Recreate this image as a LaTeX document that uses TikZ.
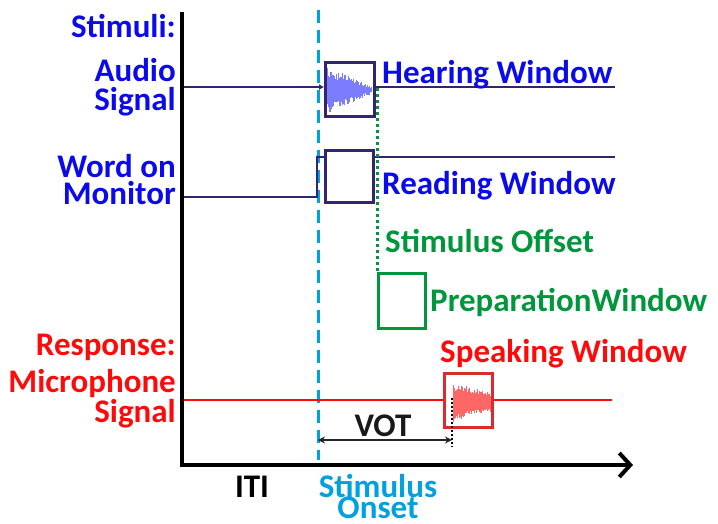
\documentclass[tikz,border=0pt]{standalone}
\usepackage{fontspec}
\setmainfont{Carlito}
\usetikzlibrary{arrows.meta}
\definecolor{lblblue}{RGB}{10,10,235}
\definecolor{navy}{RGB}{50,35,115}
\definecolor{onset}{RGB}{0,160,225}
\definecolor{offgreen}{RGB}{0,150,60}
\definecolor{resp}{RGB}{255,10,10}
\definecolor{respbox}{RGB}{215,45,45}
\begin{document}
\begin{tikzpicture}[x=1pt,y=-1pt,
  lbl/.style={font=\fontsize{33}{33}\selectfont\bfseries, inner sep=0pt},
  win/.style={draw=#1, line width=3pt, fill=white, inner sep=0pt},
  sig/.style={line width=1.2pt}]
\useasboundingbox (0,0) rectangle (718,523);

% stimulus onset marker
\coordinate (onTop) at (318,10);
\coordinate (onBot) at (318,460);
\draw[onset, line width=3pt, dash pattern=on 13pt off 7pt] (onTop) -- (onBot);

% audio signal
\node[win=navy, minimum width=49pt, minimum height=54pt] (abox) at (350,89) {};
\coordinate (aL) at (182,87);
\coordinate (aR) at (615,87);
\draw[sig, navy, -{Latex[length=5pt,width=6pt]}] (aL) -- (abox.west |- aL);
\draw[sig, navy] (abox.east |- aR) -- (aR);
\pgfmathsetseed{7}
\begin{scope}[blue!85!white, line width=0.7pt, opacity=0.6]
  \foreach \i in {0,...,44} {
    \pgfmathsetmacro{\env}{22*(1-\i/48)+2}
    \pgfmathsetmacro{\up}{\env*(0.5+0.5*rnd)}
    \pgfmathsetmacro{\dn}{\env*(0.5+0.5*rnd)}
    \draw (327+\i,90-\up) -- (327+\i,90+\dn);
  }
\end{scope}

% word on monitor
\node[win=navy, minimum width=48pt, minimum height=52pt] (rbox) at (349,176) {};
\coordinate (wL) at (182,197);
\coordinate (wStep) at (317,157);
\coordinate (wR) at (615,157);
\draw[sig, navy] (wL) -| (wStep) -- (rbox.west |- wR);
\draw[sig, navy] (rbox.east |- wR) -- (wR);

% stimulus offset and preparation window
\node[win=offgreen, minimum width=47pt, minimum height=55pt] (pbox) at (401.5,300.5) {};
\coordinate (offTop) at (377,88);
\draw[offgreen, line width=3pt, dash pattern=on 3pt off 3pt] (offTop) -- (offTop |- pbox.north west);

% microphone signal
\node[win=respbox, minimum width=48pt, minimum height=54pt] (sbox) at (468.5,400.5) {};
\coordinate (mL) at (182,400);
\coordinate (mR) at (612,400);
\draw[sig, resp] (mL) -- (sbox.west |- mL);
\draw[sig, resp] (sbox.east |- mR) -- (mR);
\pgfmathsetseed{11}
\begin{scope}[red, line width=0.7pt, opacity=0.6]
  \foreach \i in {0,...,37} {
    \pgfmathsetmacro{\env}{20-10*\i/37}
    \pgfmathsetmacro{\up}{\env*(0.55+0.45*rnd)}
    \pgfmathsetmacro{\dn}{\env*(0.55+0.45*rnd)}
    \draw (453+\i,402-\up) -- (453+\i,402+\dn);
  }
\end{scope}

% voice onset time
\coordinate (votTop) at (452,398);
\coordinate (votBot) at (452,447);
\draw[black, line width=2pt, dash pattern=on 2pt off 2pt] (votTop) -- (votBot);
\coordinate (votL) at (318,440);
\coordinate (votR) at (452,440);
\draw[black!85, line width=1.3pt, {Stealth[length=7pt,width=7pt]}-{Stealth[length=7pt,width=7pt]}] (votL) -- (votR);

% axes
\coordinate (origin) at (182,465);
\coordinate (yTop) at (182,12);
\coordinate (xEnd) at (633,465);
\draw[line width=4pt] (yTop) -- (origin);
\draw[line width=4pt, -{Straight Barb[length=11pt,width=24pt,line width=4pt]}] (180,465) -- (xEnd);

% labels
\node[lbl, lblblue, anchor=base east] (tStim) at (176,37) {Stimuli:};
\node[lbl, lblblue, anchor=base east] (tAudio) at (176,81) {Audio};
\node[lbl, lblblue, anchor=base east] (tSig1) at (176,110) {Signal};
\node[lbl, lblblue, anchor=base east] (tWord) at (176,177) {Word on};
\node[lbl, lblblue, anchor=base east] (tMon) at (176,204) {Monitor};
\node[lbl, resp, anchor=base east] (tResp) at (176,355) {Response:};
\node[lbl, resp, anchor=base east] (tMic) at (176,392) {Microphone};
\node[lbl, resp, anchor=base east] (tSig2) at (176,422) {Signal};

\node[lbl, lblblue, anchor=base west] (tHear) at (382,83) {Hearing Window};
\node[lbl, lblblue, anchor=base west] (tRead) at (382,194) {Reading Window};
\node[lbl, offgreen, anchor=base west] (tOff) at (385,252) {Stimulus Offset};
\node[lbl, offgreen, anchor=base west] (tPrep) at (430,311) {PreparationWindow};
\node[lbl, resp, anchor=base west] (tSpeak) at (440,362) {Speaking Window};
\node[lbl, black!90, anchor=base] (tVOT) at (383,436) {VOT};
\node[lbl, black, anchor=base] (tITI) at (252,497) {ITI};
\node[lbl, onset, anchor=base] (tOn1) at (378,497) {Stimulus};
\node[lbl, onset, anchor=base] (tOn2) at (378,518) {Onset};
\end{tikzpicture}
\end{document}
